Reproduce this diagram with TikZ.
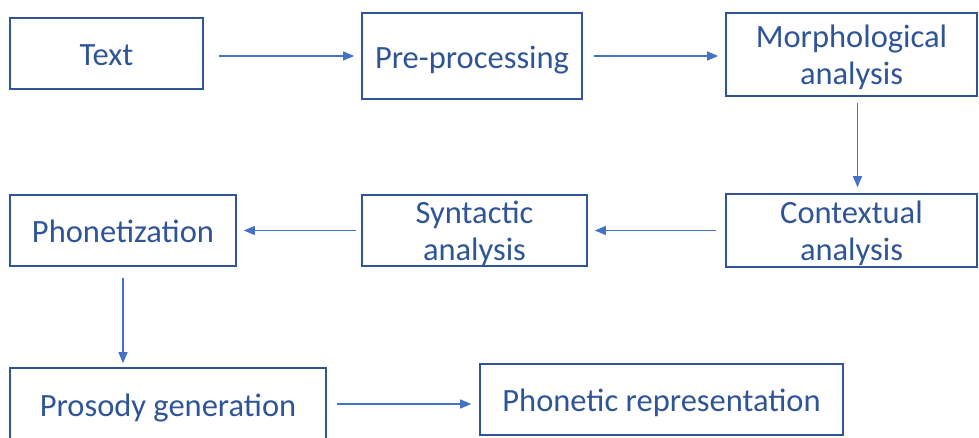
\documentclass[tikz,border=0pt]{standalone}
\usepackage{fontspec}
\setmainfont{Carlito}
\usetikzlibrary{arrows.meta}
\definecolor{boxblue}{HTML}{2F5597}
\definecolor{linkblue}{HTML}{4472C4}
% two-line label, smashed so it never enlarges its box
\newcommand\twolines[2]{\raisebox{-10.8pt}[0pt][0pt]{\begin{tabular}{@{}c@{}}#1\\#2\end{tabular}}}
\tikzset{
  stage/.style={draw=boxblue, line width=1.6pt, text=boxblue, inner sep=0pt,
    font=\fontsize{32.5}{37}\selectfont},
  % uniform strut so every one-line label sits at the same optical height
  oneline/.style={stage, execute at begin node={\rule[-8pt]{0pt}{40.6pt}}},
  arr/.style={draw=linkblue, line width=1.1pt,
    -{Triangle[length=11pt,width=9pt]}}
}
\begin{document}
\begin{tikzpicture}[x=1pt,y=-1pt]
\clip (0,0) rectangle (979,438);
\useasboundingbox (0,0) rectangle (979,438);
% first row
\node[oneline, minimum width=193pt, minimum height=71pt] (txt) at (106.5,53.5) {Text};
\node[oneline, minimum width=220pt, minimum height=86pt] (pre) at (472,56) {Pre-processing};
\node[stage, minimum width=251pt, minimum height=83pt] (mor) at (851.5,54.5) {\twolines{Morphological}{analysis}};
% second row
\node[stage, minimum width=251pt, minimum height=73pt] (con) at (851.5,230.5) {\twolines{Contextual}{analysis}};
\node[stage, minimum width=225pt, minimum height=71pt] (syn) at (474.5,230.5) {\twolines{Syntactic}{analysis}};
\node[oneline, minimum width=226pt, minimum height=71pt] (pho) at (123,230.5) {Phonetization};
% third row
\node[oneline, minimum width=316pt, minimum height=72pt] (pro) at (168,404) {Prosody generation};
\node[oneline, minimum width=363pt, minimum height=71pt] (phr) at (661.5,399.5) {Phonetic representation};
% connectors
\draw[arr, shorten <=15pt, shorten >=7pt] (txt.east |- pre.west) -- (pre.west);
\draw[arr, shorten <=11pt, shorten >=7pt] (pre.east) -- (pre.east -| mor.west);
\draw[arr, shorten <=6pt, shorten >=6pt] ([xshift=6pt]mor.south) -- ([xshift=6pt]con.north);
\draw[arr, shorten <=9pt, shorten >=7pt] (con.west) -- (syn.east);
\draw[arr, shorten <=5pt, shorten >=7pt] (syn.west) -- (pho.east);
\draw[arr, shorten <=11pt, shorten >=4pt] (pho.south) -- (pho.south |- pro.north);
\draw[arr, shorten <=10pt, shorten >=8pt] (pro.east |- 0,404) -- (phr.west |- 0,404);
\end{tikzpicture}
\end{document}
